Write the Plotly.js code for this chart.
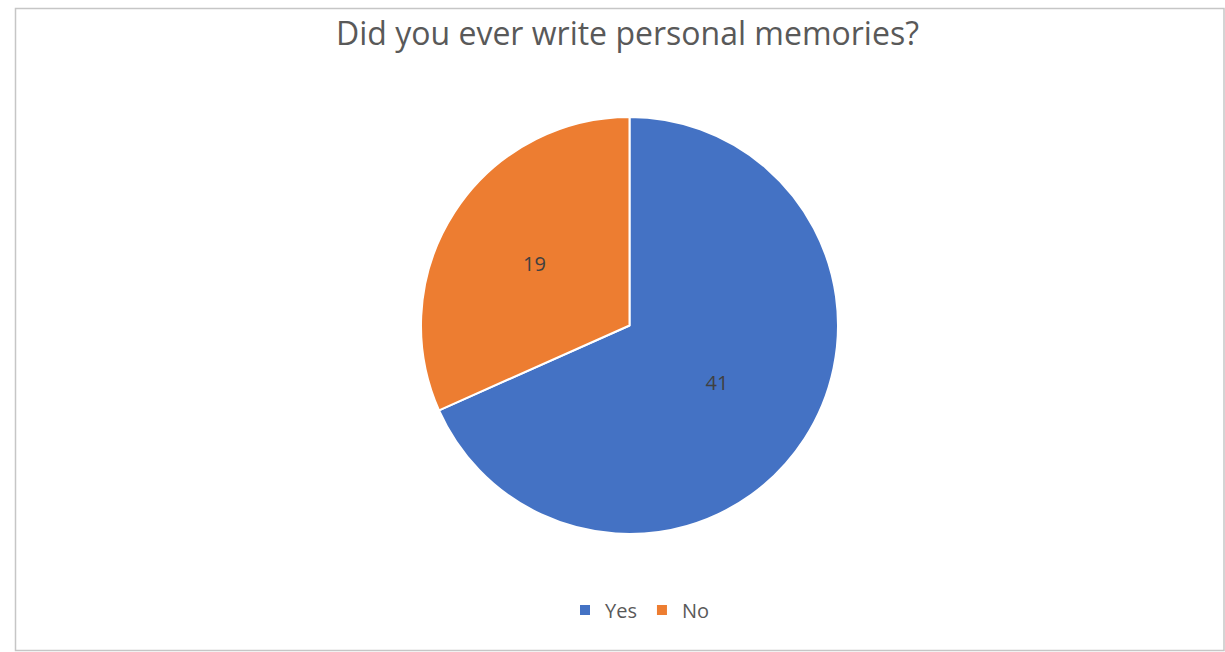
<!DOCTYPE html>
<html>
<head>
<meta charset="utf-8">
<script src="https://cdn.plot.ly/plotly-3.0.1.min.js"></script>
<style>
  html, body { margin: 0; padding: 0; background: #ffffff; }
  #chart { width: 1225px; height: 652px; }
</style>
</head>
<body>
<div id="chart"></div>
<script>
const categories = ["Yes", "No"];
const values = [41, 19];
const colors = ["#4472C4", "#ED7D31"];
const chartTitle = "Did you ever write personal memories?";

const W = 1225, H = 652;

const trace = {
  type: "pie",
  labels: categories,
  values: values,
  sort: false,
  direction: "clockwise",
  rotation: 0,
  marker: { colors: colors, line: { color: "#ffffff", width: 2 } },
  textinfo: "value",
  textposition: "inside",
  insidetextorientation: "horizontal",
  textfont: { family: "Open Sans, Liberation Sans, sans-serif", size: 20, color: "#404040" },
  insidetextfont: { family: "Open Sans, Liberation Sans, sans-serif", size: 20, color: "#404040" },
  hoverinfo: "label+value",
  domain: { x: [421 / W, 838 / W], y: [1 - 534 / H, 1 - 117 / H] }
};

const layout = {
  width: W,
  height: H,
  margin: { l: 0, r: 0, t: 0, b: 0 },
  paper_bgcolor: "#ffffff",
  title: {
    text: chartTitle,
    font: { family: "Open Sans, Liberation Sans, sans-serif", size: 32, color: "#595959" },
    x: 627.5 / W, xanchor: "center",
    y: 1 - 34 / H, yanchor: "middle"
  },
  showlegend: true,
  legend: {
    orientation: "h",
    x: 640 / W, xanchor: "center",
    y: 1 - 610 / H, yanchor: "middle",
    font: { family: "Open Sans, Liberation Sans, sans-serif", size: 20, color: "#595959" },
    itemwidth: 30,
    traceorder: "normal"
  },
  shapes: [{
    type: "rect", xref: "paper", yref: "paper",
    x0: 15.5 / W, x1: 1224 / W, y0: 1 - 650.5 / H, y1: 1 - 8.5 / H,
    line: { color: "#c6c6c6", width: 1.5 }, fillcolor: "rgba(0,0,0,0)"
  }]
};

Plotly.newPlot("chart", [trace], layout, { displayModeBar: false, staticPlot: true });
</script>
</body>
</html>
